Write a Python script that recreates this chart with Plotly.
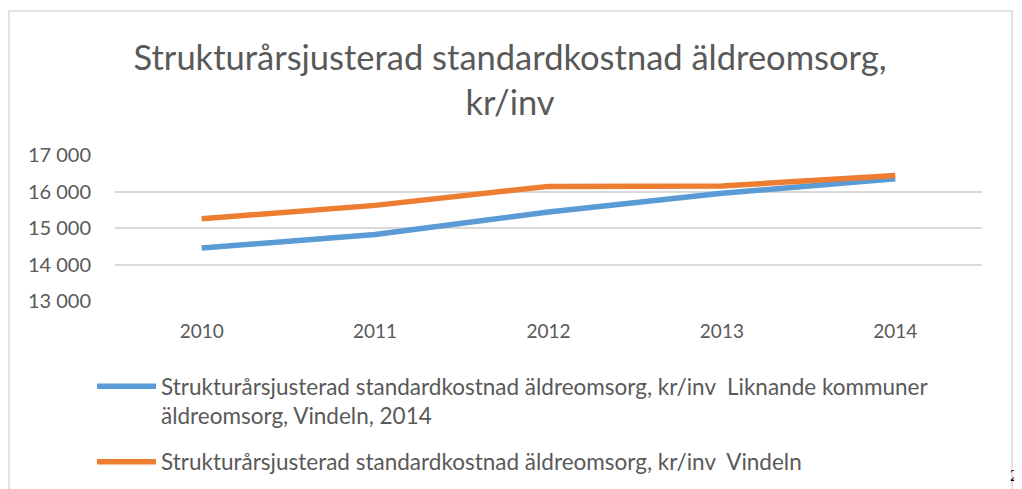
import plotly.graph_objects as go

years = ["2010", "2011", "2012", "2013", "2014"]
liknande = [14450, 14820, 15440, 15950, 16350]
vindeln = [15255, 15620, 16140, 16150, 16440]
name_liknande = "Strukturårsjusterad standardkostnad äldreomsorg, kr/inv  Liknande kommuner<br>äldreomsorg, Vindeln, 2014"
name_vindeln = "Strukturårsjusterad standardkostnad äldreomsorg, kr/inv  Vindeln"
title_text = "Strukturårsjusterad standardkostnad äldreomsorg,<br>kr/inv"
y_ticks = [13000, 14000, 15000, 16000, 17000]
page_number = "2"

FONT = "Lato"
GREY = "#595959"

fig = go.Figure()
fig.add_trace(go.Scatter(x=years, y=liknande, mode="lines", name=name_liknande,
                         legendgroup="a",
                         line=dict(color="#5B9BD5", width=5.5)))
fig.add_trace(go.Scatter(x=years, y=vindeln, mode="lines", name=name_vindeln,
                         legendgroup="b",
                         line=dict(color="#ED7D31", width=5.5)))

# page body has an 8px margin; figure coordinates below are page coords - 8
W, H = 1014, 481
L, R, T, B = 107, 40, 147, 188
pw, ph = W - L - R, H - T - B

def px(x):
    return (x - L) / pw

def py(y):
    return (H - B - y) / ph

fig.update_layout(
    width=W, height=H,
    margin=dict(l=L, r=R, t=T, b=B, autoexpand=False),
    paper_bgcolor="white", plot_bgcolor="white",
    separators=", ",
    font=dict(family=FONT, color=GREY),
    title=dict(text=title_text, x=502 / W, xanchor="center", xref="container",
               y=(H - 62) / H, yanchor="top",
               font=dict(family=FONT, size=34.5, color=GREY)),
    xaxis=dict(type="category", range=[-0.5, 4.5], showgrid=False, showline=False, ticks="",
               tickfont=dict(size=19, color=GREY), ticklabelstandoff=17),
    yaxis=dict(range=[13000, 17000], tickvals=y_ticks, tickformat=",.0f",
               showgrid=True, gridcolor="#D9D9D9", gridwidth=1.5,
               zeroline=False, showline=False, ticks="",
               tickfont=dict(size=20, color=GREY), ticklabelstandoff=23),
    legend=dict(x=px(84), y=py(357), xanchor="left", yanchor="top", valign="top",
                font=dict(size=22.5, color=GREY, family=FONT),
                tracegroupgap=14, itemwidth=59, bgcolor="rgba(0,0,0,0)"),
    showlegend=True,
    shapes=[dict(type="rect", xref="paper", yref="paper",
                 x0=px(1), x1=px(1004), y0=py(500), y1=py(3),
                 line=dict(color="#D9D9D9", width=1.5), fillcolor="rgba(0,0,0,0)",
                 layer="below")],
    annotations=[dict(text=page_number, xref="paper", yref="paper", x=px(1013), y=py(467),
                      xanchor="right", yanchor="middle", showarrow=False,
                      font=dict(family="Liberation Serif", size=17, color="#000000"))],
)

fig.write_html("out.html")
